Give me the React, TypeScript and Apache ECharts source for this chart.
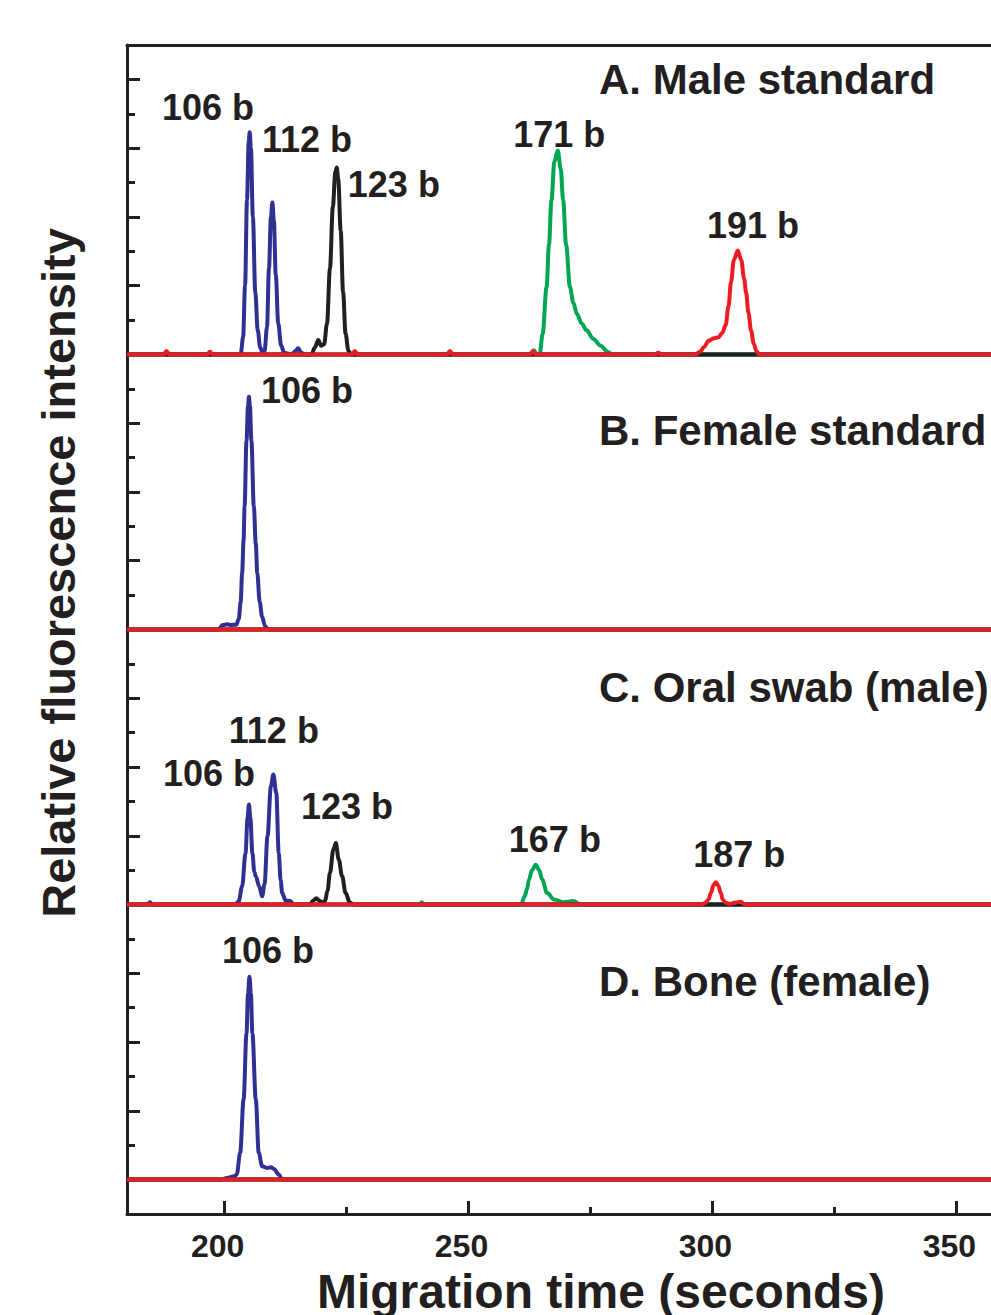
import React, { useEffect, useRef } from "react";
import * as echarts from "echarts";

// ---- data (migration time s, relative intensity above each panel's baseline) ----
const panelNames = ["A. Male standard", "B. Female standard", "C. Oral swab (male)", "D. Bone (female)"];
const panelOffsets = [24, 16, 8, 0];

const blueA = [[180,0],[200,0],[203.3,0],[203.8,0.5],[204.2,2.0],[204.6,4.5],[204.95,6.2],[205.15,6.46],[205.4,6.0],[205.8,4.0],[206.3,1.8],[206.8,0.7],[207.3,0.2],[207.8,0.05],[208.2,0.1],[208.7,0.8],[209.1,2.5],[209.5,4.0],[209.8,4.42],[210.1,3.9],[210.5,2.3],[211.0,0.9],[211.6,0.25],[212.2,0.05],[213.8,0],[214.5,0.1],[215.1,0.18],[215.7,0.05],[216.5,0],[360,0]];
const blackA = [[180,0],[217.8,0],[218.5,0.2],[219.2,0.42],[219.8,0.25],[220.4,0.3],[221.0,0.9],[221.6,2.5],[222.2,4.3],[222.7,5.3],[223.0,5.44],[223.3,5.1],[223.8,3.6],[224.3,1.8],[224.8,0.6],[225.4,0.1],[226,0],[360,0]];
const greenA = [[180,0],[262.8,0],[263.4,0.12],[264.0,0],[264.6,0.02],[265.2,0.6],[266.0,1.96],[266.5,3.2],[267.0,4.48],[267.6,5.6],[268.3,5.93],[268.9,5.4],[269.4,4.48],[270.0,3.2],[270.8,1.96],[271.5,1.5],[272.2,1.18],[273.2,0.9],[274.2,0.7],[275.6,0.45],[277.0,0.26],[278.6,0.07],[279.5,0],[360,0]];
const redA = [[180,0],[187.5,0],[188.1,0.1],[188.7,0],[196.4,0],[197.0,0.08],[197.6,0],[226.1,0],[226.7,0.1],[227.3,0],[245.6,0],[246.2,0.1],[246.8,0],[262.6,0],[263.2,0.1],[263.8,0],[288.3,0],[288.9,0.05],[289.5,0],[296.5,0],[297.5,0.08],[298.3,0.22],[299.2,0.4],[300.3,0.47],[301.2,0.5],[302.0,0.62],[302.7,0.85],[303.3,1.4],[303.8,2.1],[304.4,2.75],[305.2,3.02],[305.9,2.75],[306.5,2.2],[306.9,1.8],[307.4,1.2],[307.9,0.7],[308.5,0.3],[309.0,0.1],[309.6,0],[360,0]];

const blueB = [[180,0],[198.8,0],[199.6,0.13],[200.5,0.15],[201.5,0.13],[202.4,0.14],[202.9,0.3],[203.3,0.8],[203.6,1.64],[203.9,2.6],[204.1,3.57],[204.5,5.5],[204.8,6.5],[205.0,6.77],[205.2,6.5],[205.5,5.5],[206.0,3.57],[206.4,2.5],[206.7,1.64],[207.2,0.8],[207.7,0.37],[208.3,0.1],[208.9,0],[360,0]];
const blackB = [[180,0],[360,0]];
const greenB = [[180,0],[360,0]];
const redB = [[180,0],[360,0]];

const blueC = [[180,0],[184.2,0],[184.7,0.07],[185.2,0],[202.3,0],[202.9,0.1],[203.6,0.53],[204.3,1.5],[204.7,2.5],[205.0,2.91],[205.3,2.5],[205.7,1.5],[206.1,0.95],[206.4,0.82],[207.1,0.53],[207.7,0.24],[208.2,0.6],[208.8,1.99],[209.5,3.44],[210.0,3.78],[210.6,3.25],[211.1,1.5],[211.5,0.7],[211.8,0.34],[212.5,0.12],[213.5,0.1],[214.1,0],[360,0]];
const blackC = [[180,0],[217.5,0],[218.2,0.12],[218.8,0.18],[219.4,0.12],[220.0,0.05],[220.6,0.1],[221.1,0.4],[221.6,0.92],[222.3,1.6],[222.8,1.79],[223.4,1.31],[224.1,0.82],[224.8,0.34],[225.7,0.05],[226.5,0],[360,0]];
const greenC = [[180,0],[240.0,0],[240.4,0.07],[240.8,0],[260.8,0],[261.5,0.24],[262.0,0.45],[262.4,0.73],[263.0,1.0],[263.8,1.16],[264.5,1.0],[265.1,0.73],[266.1,0.34],[267.5,0.15],[269.5,0.07],[271.5,0.1],[273,0],[360,0]];
const redC = [[180,0],[297.8,0],[298.6,0.05],[299.2,0.15],[299.7,0.34],[300.2,0.56],[300.7,0.65],[301.2,0.55],[301.7,0.34],[302.1,0.15],[302.7,0.05],[303.5,0.02],[304.8,0.06],[305.8,0.08],[306.6,0],[360,0]];

const blueD = [[180,0],[199.2,0],[200.5,0.05],[202.0,0.1],[202.5,0.15],[203.2,0.78],[203.9,2.33],[204.5,4.26],[204.8,5.4],[205.1,5.9],[205.4,5.4],[205.7,4.26],[206.4,2.33],[207.0,0.78],[207.7,0.39],[208.7,0.34],[209.5,0.36],[210.1,0.31],[211.1,0.15],[211.8,0],[360,0]];
const blackD = [[180,0],[360,0]];
const greenD = [[180,0],[360,0]];
const redD = [[180,0],[360,0]];

// peak annotations: [text, time, intensity-axis value]
const peakLabels: [string, number, number][] = [
  ["106 b", 196.6, 31.17], ["112 b", 216.9, 30.24], ["123 b", 234.7, 28.93], ["171 b", 268.6, 30.41], ["191 b", 308.3, 27.76],
  ["106 b", 216.9, 22.94],
  ["112 b", 210.1, 13.05], ["106 b", 196.8, 11.82], ["123 b", 225.1, 10.84], ["167 b", 267.7, 9.88], ["187 b", 305.5, 9.47],
  ["106 b", 208.9, 6.65],
];

const xMajorTicks = [200, 250, 300, 350];
const xMinorTicks = [225, 275, 325];
const yMajorTicks = [2, 4, 6, 10, 12, 14, 18, 20, 22, 26, 28, 30, 32];
const yMinorTicks = [1, 3, 5, 7, 9, 11, 13, 15, 17, 19, 21, 23, 25, 27, 29, 31];

const INK = "#231f20";
const BLUE = "#2e3192";
const GREEN = "#00a651";
const RED = "#ed1c24";
const FONT = '"Liberation Sans", Arial, Helvetica, sans-serif';

export default function App() {
  const ref = useRef<HTMLDivElement>(null);
  useEffect(() => {
    if (!ref.current) return;
    const chart = echarts.init(ref.current, null, { renderer: "svg" });
    // drawing order: blue, green, black, red (red on top)
    const traces = [
      [blueA, greenA, blackA, redA],
      [blueB, greenB, blackB, redB],
      [blueC, greenC, blackC, redC],
      [blueD, greenD, blackD, redD],
    ];
    const colors = [BLUE, GREEN, INK, RED];
    const series: any[] = [];
    traces.forEach((set, p) => {
      set.forEach((pts, k) => {
        series.push({
          type: "line",
          xAxisIndex: 0,
          yAxisIndex: 0,
          data: pts.map(([t, v]) => [t, v + panelOffsets[p]]),
          showSymbol: false,
          smooth: 0.35,
          smoothMonotone: "x",
          lineStyle: { color: colors[k], width: 4 },
          silent: true,
          z: 2 + k,
        });
      });
    });
    series.push({
      type: "scatter",
      xAxisIndex: 0,
      yAxisIndex: 0,
      symbolSize: 0,
      silent: true,
      itemStyle: { color: INK, opacity: 1 },
      data: peakLabels.map(([n, t, v]) => ({ name: n, value: [t, v] })),
      label: {
        show: true,
        position: [0, 0],
        align: "center",
        verticalAlign: "middle",
        formatter: "{b}",
        color: INK,
        opacity: 1,
        textBorderWidth: 0,
        textBorderColor: "transparent",
        fontSize: 36,
        fontWeight: "bold",
        fontFamily: FONT,
      },
      z: 10,
    });

    const tickStyle = { color: INK, width: 3 };
    chart.setOption({
      animation: false,
      backgroundColor: "#ffffff",
      grid: { left: 127, top: 45, right: 0, bottom: 101, containLabel: false },
      xAxis: [
        {
          type: "value", position: "bottom", min: 180, max: 357.1,
          axisLine: { show: true, onZero: false, lineStyle: tickStyle },
          axisTick: { show: true, inside: true, length: 13, customValues: xMajorTicks, lineStyle: tickStyle },
          axisLabel: { show: true, customValues: xMajorTicks, margin: 16, padding: [0, 14, 0, 0], color: INK, fontSize: 32, fontWeight: "bold", fontFamily: FONT },
          splitLine: { show: false },
        },
        {
          type: "value", position: "bottom", min: 180, max: 357.1,
          axisLine: { show: false, onZero: false },
          axisTick: { show: true, inside: true, length: 7, customValues: xMinorTicks, lineStyle: tickStyle },
          axisLabel: { show: false },
          splitLine: { show: false },
        },
        {
          type: "value", position: "top", min: 180, max: 357.1,
          axisLine: { show: true, onZero: false, lineStyle: tickStyle },
          axisTick: { show: false },
          axisLabel: { show: false },
          splitLine: { show: false },
        },
      ],
      yAxis: [
        {
          type: "value", position: "left", min: -1, max: 33, interval: 1,
          axisLine: { show: true, onZero: false, lineStyle: tickStyle },
          axisTick: { show: true, inside: true, length: 8, customValues: yMinorTicks, lineStyle: tickStyle },
          axisLabel: { show: false },
          splitLine: { show: false },
        },
        {
          type: "value", position: "left", min: -1, max: 33, interval: 1,
          axisLine: { show: false, onZero: false },
          axisTick: { show: true, inside: true, length: 13, customValues: yMajorTicks, lineStyle: tickStyle },
          axisLabel: { show: false },
          splitLine: { show: false },
        },
      ],
      graphic: [
        ...panelNames.map((name, i) => ({
          type: "text",
          left: 599,
          top: [80, 431, 688, 982][i] - 22,
          style: { text: name, fill: INK, font: `bold 42px ${FONT}` },
          z: 20,
        })),
        {
          type: "text",
          x: 58,
          y: 573,
          rotation: Math.PI / 2,
          style: { text: "Relative fluorescence intensity", fill: INK, font: `bold 47px ${FONT}`, textAlign: "center", textVerticalAlign: "middle" },
          z: 20,
        },
        {
          type: "text",
          x: 601,
          y: 1291,
          style: { text: "Migration time (seconds)", fill: INK, font: `bold 48px ${FONT}`, textAlign: "center", textVerticalAlign: "middle" },
          z: 20,
        },
      ],
      series,
    });
    return () => chart.dispose();
  }, []);
  return <div ref={ref} style={{ position: "fixed", left: 0, top: 0, width: 991, height: 1315, background: "#fff" }} />;
}
